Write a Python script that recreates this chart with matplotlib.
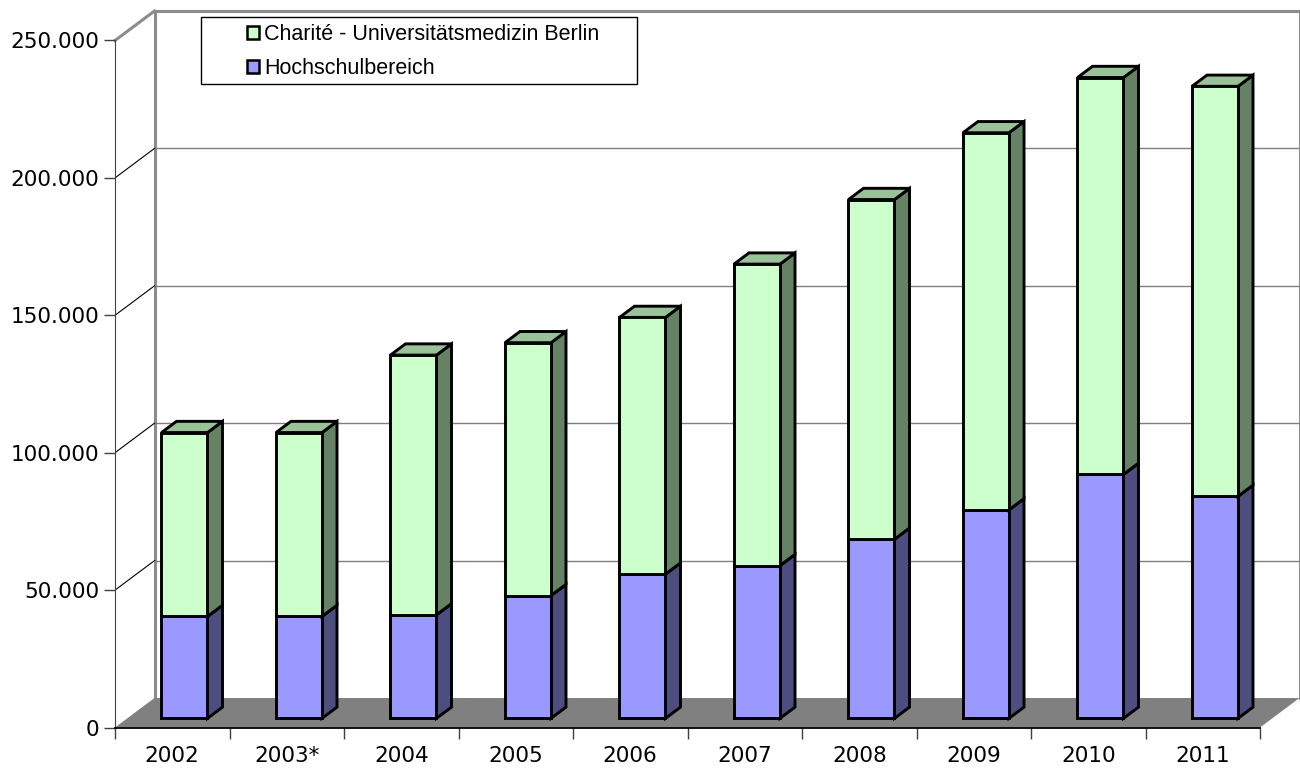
import numpy as np
import matplotlib.pyplot as plt
from matplotlib.patches import Rectangle, Polygon, Patch
from matplotlib.ticker import FuncFormatter, FixedLocator

# Werte
years = ["2002", "2003*", "2004", "2005", "2006", "2007", "2008", "2009", "2010", "2011"]
hochschul = [37100, 37100, 37700, 44700, 52500, 55600, 65200, 75900, 88800, 80800]
charite = [66900, 66900, 94500, 92000, 93400, 109700, 123600, 137200, 144400, 149200]
y_ticks = [0, 50000, 100000, 150000, 200000, 250000]
labels = ["Charité - Universitätsmedizin Berlin", "Hochschulbereich"]

# Farben
GREEN_FACE, GREEN_SIDE, GREEN_TOP = "#CCFFCC", "#658265", "#99C299"
BLUE_FACE, BLUE_SIDE, BLUE_TOP = "#9999FF", "#4D4D80", "#7A7ACC"
FLOOR = "#808080"
WALL = "#8C8C8C"

W, H = 1300, 769
fig = plt.figure(figsize=(W / 100, H / 100), dpi=100)
ax = fig.add_axes([115 / W, (H - 727.5) / H, (W - 115) / W, 727.5 / H])

px_cat = 114.5
px_val = 2.748 / 1000
ax.set_xlim(0, (W - 115) / px_cat)
ax.set_ylim(0, 727.5 / px_val)

# Tiefe der 3D-Darstellung
DX = 39.5 / px_cat
DY = 29.5 / px_val
ymax = y_ticks[-1]
n = len(years)

# Rückwand und Seitenwand
ax.plot([DX, n + DX], [ymax + DY, ymax + DY], color=WALL, lw=2.2, clip_on=False, zorder=1)
ax.plot([DX, DX], [DY, ymax + DY], color=WALL, lw=2.2, clip_on=False, zorder=1)
ax.plot([n + DX, n + DX], [DY, ymax + DY], color=WALL, lw=2.2, clip_on=False, zorder=1)
ax.plot([0, DX], [ymax, ymax + DY], color=WALL, lw=2.2, clip_on=False, zorder=1)
for v in y_ticks[1:-1]:
    ax.plot([DX, n + DX], [v + DY, v + DY], color="#7F7F7F", lw=1.0, zorder=1)
    ax.plot([0, DX], [v, v + DY], color="black", lw=0.8, zorder=1)

# Boden
ax.add_patch(Polygon([(0, 0), (n, 0), (n + DX, DY), (DX, DY)], closed=True,
                     facecolor=FLOOR, edgecolor="none", zorder=2, clip_on=False))

# Säulen
f_front = 0.31
f_depth = 0.38
bw = 46 / px_cat
bdx, bdy = f_depth * DX, f_depth * DY


def draw_segment(cx, base, bottom, top, face, side, topc):
    x0, x1 = cx - bw / 2, cx + bw / 2
    y0, y1 = base + bottom, base + top
    kw = dict(edgecolor="black", lw=2.1, joinstyle="miter", zorder=3)
    ax.add_patch(Polygon([(x1, y0), (x1 + bdx, y0 + bdy), (x1 + bdx, y1 + bdy), (x1, y1)],
                         closed=True, facecolor=side, **kw))
    ax.add_patch(Polygon([(x0, y1), (x1, y1), (x1 + bdx, y1 + bdy), (x0 + bdx, y1 + bdy)],
                         closed=True, facecolor=topc, **kw))
    ax.add_patch(Rectangle((x0, y0), bw, top - bottom, facecolor=face, **kw))


for i in range(n):
    cx = i + 0.5 + f_front * DX
    base = f_front * DY
    h = hochschul[i]
    draw_segment(cx, base, 0, h, BLUE_FACE, BLUE_SIDE, BLUE_TOP)
    draw_segment(cx, base, h, h + charite[i], GREEN_FACE, GREEN_SIDE, GREEN_TOP)

# Achsen
for s in ["top", "right"]:
    ax.spines[s].set_visible(False)
ax.spines["left"].set_bounds(0, ymax)
ax.spines["left"].set_color("#404040")
ax.spines["bottom"].set_bounds(0, n)
ax.spines["bottom"].set_color("black")
ax.spines["bottom"].set_linewidth(1.3)
ax.spines["bottom"].set_zorder(4)

ax.yaxis.set_major_locator(FixedLocator(y_ticks))
ax.yaxis.set_major_formatter(FuncFormatter(lambda v, p: f"{int(v):,}".replace(",", ".")))
ax.tick_params(axis="y", direction="out", length=8, width=1, color="#404040",
               labelsize=15.5, pad=3.5)

ax.set_xticks(np.arange(n + 1))
ax.set_xticklabels([])
ax.set_xticks(np.arange(n) + 0.5, minor=True)
ax.set_xticklabels(years, minor=True)
ax.tick_params(axis="x", which="major", direction="out", length=8, width=1, color="#404040")
ax.tick_params(axis="x", which="minor", length=0, labelsize=15.5, pad=13)

# Legende
ax.add_patch(Rectangle((201 / W, 1 - 84 / H), 436 / W, 67 / H, transform=fig.transFigure,
                       facecolor="white", edgecolor="black", lw=1.0, zorder=5, clip_on=False))
handles = [Patch(facecolor=GREEN_FACE, edgecolor="black", lw=1.8),
           Patch(facecolor=BLUE_FACE, edgecolor="black", lw=1.8)]
leg = ax.legend(handles, labels, loc="upper left", bbox_to_anchor=(230 / W, 1 - 7 / H),
                bbox_transform=fig.transFigure, frameon=False, handlelength=0.55,
                handleheight=0.55, handletextpad=0.25, labelspacing=0.6, borderpad=0.3,
                prop={"family": "Liberation Sans", "size": 15.5})
leg.set_zorder(6)

fig.savefig("out.png", dpi=100)
